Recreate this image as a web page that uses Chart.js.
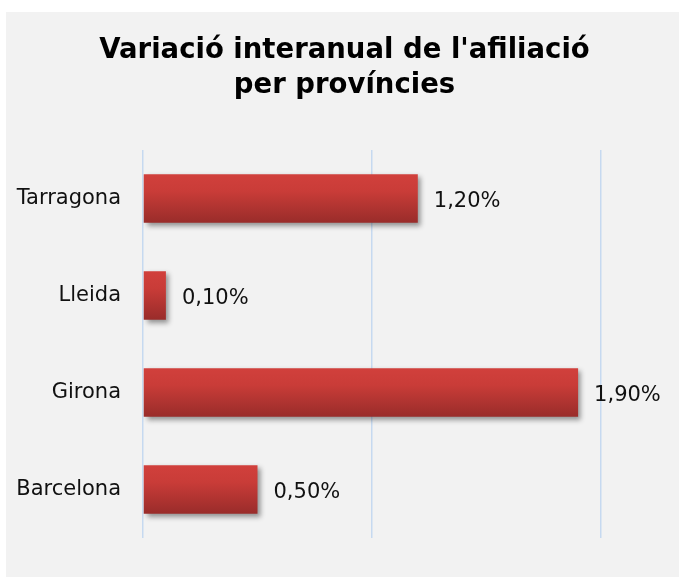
<!DOCTYPE html>
<html>
<head>
<meta charset="utf-8">
<script src="https://cdn.jsdelivr.net/npm/chart.js@4/dist/chart.umd.min.js"></script>
<style>
  body { margin: 0; background: #ffffff; }
  #box { position: absolute; left: 6px; top: 12px; width: 673px; height: 565px; background: #f2f2f2; }
</style>
</head>
<body>
<div id="box"><canvas id="chart" width="673" height="565"></canvas></div>
<script>
const provinces = ["Tarragona", "Lleida", "Girona", "Barcelona"];
const variation = [1.2, 0.1, 1.9, 0.5];
const titleLines = ["Variació interanual de l'afiliació", "per províncies"];

const FONT = "'DejaVu Sans', Verdana, sans-serif";
const fmt = (v) => v.toFixed(2).replace(".", ",") + "%";

// red bars, lighter on top and darker at the bottom
function barGradient(ctx) {
  const chart = ctx.chart;
  const y = chart.scales.y;
  if (!y || ctx.dataIndex === undefined) return "#c13a36";
  const mid = y.getPixelForValue(ctx.dataIndex);
  const half = (y.height / provinces.length) * 0.5 / 2;
  if (!isFinite(mid) || !isFinite(half) || half <= 0) return "#c13a36";
  const g = chart.ctx.createLinearGradient(0, mid - half, 0, mid + half);
  g.addColorStop(0, "#d1403c");
  g.addColorStop(0.35, "#c93c38");
  g.addColorStop(1, "#992c2a");
  return g;
}

const shadowPlugin = {
  id: "barShadow",
  beforeDatasetsDraw(chart) {
    const c = chart.ctx;
    c.save();
    c.shadowColor = "rgba(0,0,0,0.4)";
    c.shadowBlur = 5;
    c.shadowOffsetX = 3;
    c.shadowOffsetY = 3;
  },
  afterDatasetsDraw(chart) {
    chart.ctx.restore();
  }
};

// title centred over the whole box (the built-in one is shifted by the right padding)
const titlePlugin = {
  id: "boxTitle",
  afterDraw(chart) {
    const c = chart.ctx;
    c.save();
    c.font = "bold 27.5px " + FONT;
    c.fillStyle = "#000000";
    c.textAlign = "center";
    c.textBaseline = "middle";
    titleLines.forEach((line, i) => c.fillText(line, chart.width / 2 + 2, 39 + i * 35));
    c.restore();
  }
};

const labelPlugin = {
  id: "valueLabels",
  afterDraw(chart) {
    const c = chart.ctx;
    const meta = chart.getDatasetMeta(0);
    c.save();
    c.font = "21px " + FONT;
    c.fillStyle = "#111111";
    c.textAlign = "left";
    c.textBaseline = "middle";
    meta.data.forEach((bar, i) => {
      c.fillText(fmt(variation[i]), bar.x + 16, bar.y + 3);
    });
    c.restore();
  }
};

new Chart(document.getElementById("chart"), {
  type: "bar",
  data: {
    labels: provinces,
    datasets: [{
      data: variation,
      backgroundColor: barGradient,
      borderWidth: 0,
      barPercentage: 0.5,
      categoryPercentage: 1
    }]
  },
  options: {
    indexAxis: "y",
    responsive: false,
    animation: false,
    layout: { padding: { left: 0, right: 78, top: 138, bottom: 39 } },
    plugins: {
      legend: { display: false },
      tooltip: { enabled: false },
      title: { display: false }
    },
    scales: {
      x: {
        min: 0,
        max: 2,
        ticks: { display: false, stepSize: 1 },
        grid: { color: "#c6d9f0", lineWidth: 1.5, drawTicks: false },
        border: { display: false },
        afterFit(scale) { scale.height = 0; }
      },
      y: {
        grid: { display: false, drawTicks: false },
        border: { display: false },
        ticks: {
          color: "#111111",
          padding: 22,
          font: { family: FONT, size: 21 }
        },
        afterFit(scale) { scale.width = 137; }
      }
    }
  },
  plugins: [shadowPlugin, labelPlugin, titlePlugin]
});
</script>
</body>
</html>
